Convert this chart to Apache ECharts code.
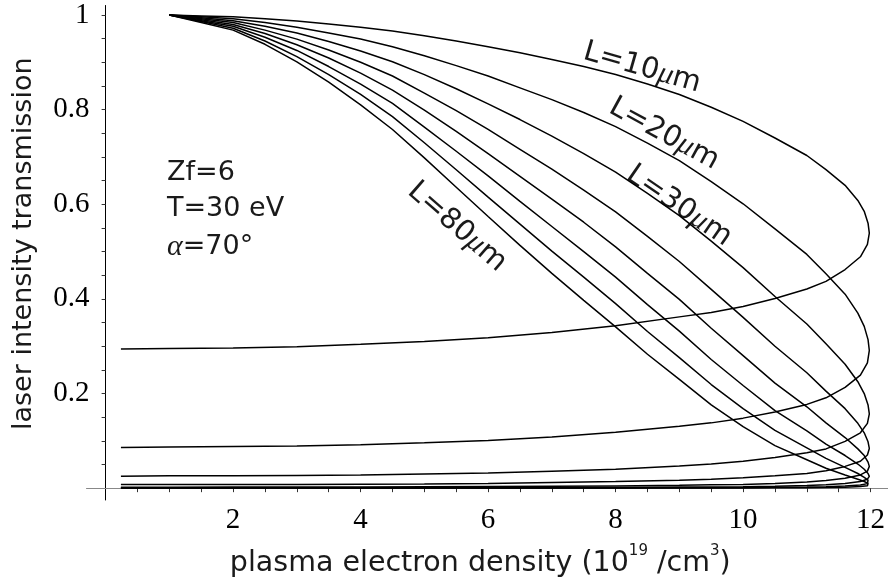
<!DOCTYPE html>
<html>
<head>
<meta charset="utf-8">
<script src="https://cdn.jsdelivr.net/npm/echarts@6/dist/echarts.min.js"></script>
<style>
  html, body { margin: 0; padding: 0; background: #fff; }
  #chart { width: 888px; height: 582px; }
</style>
</head>
<body>
<div id="chart"></div>
<script>
// density points along each curve: upper branch out to the turning point, then the lower branch back
const xUpper = [1, 1.5, 2, 2.5, 3, 3.5, 4, 4.5, 5, 5.5, 6, 6.5, 7, 7.5, 8, 8.5, 9, 9.5, 10, 10.5, 11, 11.3, 11.6, 11.8, 11.9, 11.96, 11.98];
const xLower = [11.95, 11.84, 11.6, 11.3, 11, 10.5, 10, 9.5, 9, 8, 7, 6, 5, 4, 3, 2, 1, 0.24];

// transmission, one array per plasma length
const trans10 = [1, .998, .996, .992, .987, .981, .974, .966, .956, .945, .933, .920, .906, .891, .874, .854, .832, .805, .775, .740, .703, .673, .640, .608, .585, .560, .539,
  .515, .489, .462, .437, .421, .401, .384, .371, .362, .343, .329, .318, .310, .304, .299, .296, .295, .294];
const trans20 = [1, .996, .992, .984, .974, .962, .949, .933, .914, .893, .871, .846, .821, .794, .764, .729, .692, .648, .601, .548, .494, .453, .410, .370, .342, .314, .291,
  .265, .239, .213, .191, .177, .161, .148, .138, .131, .118, .108, .101, .096, .092, .089, .088, .087, .086];
const trans30 = [1, .994, .988, .976, .962, .944, .924, .901, .874, .844, .812, .779, .744, .707, .668, .623, .576, .522, .466, .405, .347, .305, .262, .225, .200, .176, .157,
  .137, .117, .099, .083, .075, .065, .057, .051, .047, .040, .036, .032, .030, .028, .027, .026, .026, .025];
const trans40 = [1, .992, .984, .968, .949, .926, .900, .871, .835, .798, .758, .716, .674, .630, .584, .532, .479, .420, .361, .300, .244, .205, .168, .137, .117, .098, .084,
  .070, .057, .046, .037, .031, .026, .022, .019, .017, .014, .012, .010, .009, .0085, .008, .0077, .0076, .0075];
const trans50 = [1, .990, .980, .961, .937, .909, .877, .841, .799, .754, .707, .659, .611, .562, .510, .454, .399, .338, .280, .222, .172, .138, .107, .083, .069, .055, .046,
  .036, .028, .021, .016, .013, .010, .008, .007, .006, .0048, .0039, .0033, .0029, .0026, .0024, .0023, .0022, .0022];
const trans60 = [1, .988, .976, .953, .925, .891, .854, .813, .763, .712, .660, .606, .553, .500, .446, .388, .332, .272, .217, .164, .121, .093, .069, .051, .040, .031, .025,
  .019, .014, .0097, .007, .0056, .0042, .0032, .0026, .0023, .0016, .0013, .001, .0009, .0008, .0007, .0007, .0007, .0006];
const trans70 = [1, .986, .972, .945, .912, .874, .832, .785, .730, .673, .615, .558, .501, .446, .390, .331, .276, .219, .168, .122, .085, .063, .044, .031, .023, .017, .013,
  .0096, .0067, .0045, .003, .0023, .0017, .0012, .001, .0008, .0006, .0004, .0003, .0003, .0002, .0002, .0002, .0002, .0002];
const trans80 = [1, .984, .968, .938, .901, .858, .810, .758, .698, .636, .574, .513, .454, .397, .341, .283, .230, .176, .130, .090, .060, .042, .028, .019, .014, .010, .007,
  .0049, .0033, .0021, .0013, .001, .0007, .0005, .0004, .0003, .0002, .0001, .0001, .0001, .0001, .0001, .0001, .0001, .0001];

const xTicks = [2, 4, 6, 8, 10, 12];
const xTickMarks = [0.5, 1, 1.5, 2, 2.5, 3, 3.5, 4, 4.5, 5, 5.5, 6, 6.5, 7, 7.5, 8, 8.5, 9, 9.5, 10, 10.5, 11, 11.5, 12];
const yTicks = [0.2, 0.4, 0.6, 0.8, 1];
const yTickMarks = [0.05, 0.1, 0.15, 0.2, 0.25, 0.3, 0.35, 0.4, 0.45, 0.5, 0.55, 0.6, 0.65, 0.7, 0.75, 0.8, 0.85, 0.9, 0.95, 1];

const xPath = xUpper.concat(xLower);
const curves = [trans10, trans20, trans30, trans40, trans50, trans60, trans70, trans80];

const sans = '"DejaVu Sans", sans-serif';
const serif = '"Liberation Serif", "DejaVu Serif", serif';
const ink = '#1a1a1a';

const chart = echarts.init(document.getElementById('chart'), null, { renderer: 'canvas' });

const curveLabel = (num, x, y, deg) => ({
  type: 'text',
  x: x,
  y: y,
  rotation: -deg * Math.PI / 180,
  style: {
    text: '{t|L=' + num + '}{g|μ}{t|m}',
    align: 'center',
    verticalAlign: 'middle',
    rich: {
      t: { fontFamily: sans, fontSize: 29, fill: ink },
      g: { fontFamily: serif, fontStyle: 'italic', fontSize: 30, fill: ink }
    }
  }
});

const option = {
  animation: false,
  backgroundColor: '#fff',
  grid: { left: 86.5, right: 0, top: 5.5, bottom: 82, outerBoundsMode: 'none' },
  xAxis: {
    type: 'value',
    min: -0.3,
    max: 12.273,
    name: '{n|plasma electron density (10}{s|19}{n| /cm}{s|3}{n|)}',
    nameLocation: 'middle',
    nameGap: 44,
    nameMoveOverlap: false,
    nameTextStyle: {
      padding: [0, 14, 0, 0],
      rich: {
        n: { fontFamily: sans, fontSize: 28.5, color: ink, lineHeight: 34, verticalAlign: 'bottom' },
        s: { fontFamily: sans, fontSize: 15, color: ink, lineHeight: 34, verticalAlign: 'top' }
      }
    },
    axisLine: { onZero: true, lineStyle: { color: '#888', width: 1 } },
    axisTick: { show: true, inside: false, length: 4, customValues: xTickMarks, lineStyle: { color: '#333' } },
    axisLabel: { customValues: xTicks, fontFamily: serif, fontSize: 29, color: '#000', margin: 6 },
    splitLine: { show: false }
  },
  yAxis: {
    type: 'value',
    min: -0.025,
    max: 1.02,
    name: 'laser intensity transmission',
    nameLocation: 'middle',
    nameGap: 49,
    nameMoveOverlap: false,
    nameTextStyle: { fontFamily: sans, fontSize: 27, color: ink, padding: [0, 0, 0, 18] },
    axisLine: { onZero: true, lineStyle: { color: '#000', width: 1 } },
    axisTick: { show: true, inside: false, length: 4, customValues: yTickMarks, lineStyle: { color: '#333' } },
    axisLabel: { customValues: yTicks, fontFamily: serif, fontSize: 29, color: '#000', margin: -3 },
    splitLine: { show: false }
  },
  series: curves.map((ys) => ({
    type: 'line',
    data: xPath.map((x, i) => [x, ys[i]]),
    showSymbol: false,
    silent: true,
    lineStyle: { color: '#000', width: 1.5 }
  })),
  graphic: [
    {
      type: 'text', x: 167, y: 173,
      style: { text: 'Zf=6', fontFamily: sans, fontSize: 27, fill: ink, verticalAlign: 'middle' }
    },
    {
      type: 'text', x: 167, y: 209,
      style: { text: 'T=30 eV', fontFamily: sans, fontSize: 27, fill: ink, verticalAlign: 'middle' }
    },
    {
      type: 'text', x: 167, y: 247,
      style: {
        text: '{g|α}{t|=70°}',
        verticalAlign: 'middle',
        rich: {
          g: { fontFamily: serif, fontStyle: 'italic', fontSize: 30, fill: ink },
          t: { fontFamily: sans, fontSize: 27, fill: ink }
        }
      }
    },
    curveLabel(10, 642, 68, 16),
    curveLabel(20, 664, 134, 28.5),
    curveLabel(30, 679, 206, 34.5),
    curveLabel(80, 457, 227, 41)
  ]
};

chart.setOption(option);
</script>
</body>
</html>
